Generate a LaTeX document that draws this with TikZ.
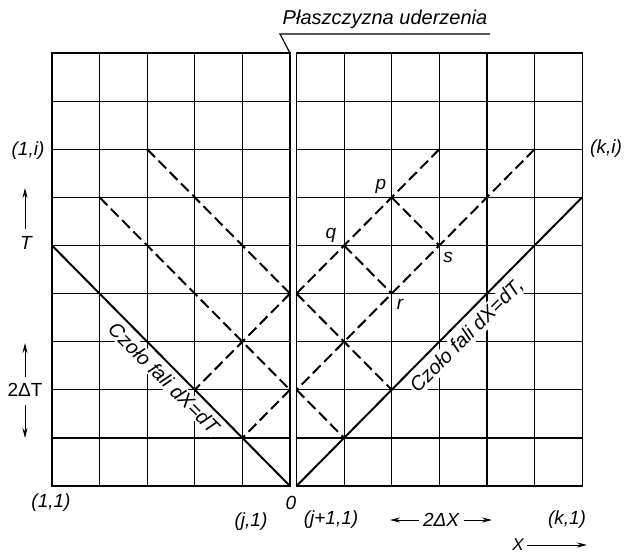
\documentclass[tikz,border=0pt]{standalone}
\usepackage{fontspec}
\setmainfont{Liberation Sans}
\usetikzlibrary{arrows.meta}
\begin{document}
\begin{tikzpicture}[x=1pt,y=-1pt,
  gridline/.style={line width=1.2pt},
  front/.style={line width=2pt},
  charline/.style={line width=2pt, dash pattern=on 11pt off 5pt},
  lbl/.style={font=\fontsize{19}{22}\selectfont\itshape, inner sep=0pt},
  uplbl/.style={font=\fontsize{19}{22}\selectfont, inner sep=0pt},
  frontlbl/.style={font=\fontsize{20}{24}\selectfont\itshape, fill=white, inner sep=1.5pt},
  arr/.style={line width=1pt, -{Stealth[length=10pt,width=5pt]}}
]
\useasboundingbox (0,0) rectangle (627,556);

% left half of the grid
\begin{scope}[shift={(290,486)}, x=47.6pt, y=48.1pt]
  \foreach \i in {-4,...,-1} \draw[gridline] (\i,0) -- (\i,9);
  \foreach \j in {1,...,8} \draw[gridline] (-5,\j) -- (0,\j);
  \draw[gridline] (-5,0) rectangle (0,9);
  \coordinate (Ltop) at (0,9);
  \coordinate (La) at (-3,7);
  \coordinate (Lb) at (-4,6);
  \coordinate (Lc4) at (0,4);
  \coordinate (Lc2) at (0,2);
  \coordinate (Lm2) at (-2,2);
  \coordinate (Lm1) at (-1,1);
  \coordinate (Lf) at (-5,5);
  \coordinate (L0) at (0,0);
\end{scope}

% right half of the grid
\begin{scope}[shift={(296.5,486)}, x=47.6pt, y=48.1pt]
  \foreach \i in {1,...,5} \draw[gridline] (\i,0) -- (\i,9);
  \foreach \j in {1,...,8} \draw[gridline] (0,\j) -- (6,\j);
  \draw[gridline] (0,0) rectangle (6,9);
  \coordinate (Rc4) at (0,4);
  \coordinate (Rc2) at (0,2);
  \coordinate (R22) at (2,2);
  \coordinate (R11) at (1,1);
  \coordinate (R37) at (3,7);
  \coordinate (R57) at (5,7);
  \coordinate (p) at (2,6);
  \coordinate (s) at (3,5);
  \coordinate (q) at (1,5);
  \coordinate (r) at (2,4);
  \coordinate (R0) at (0,0);
  \coordinate (R66) at (6,6);
\end{scope}

% wave-front labels (mask the grid behind them)
\node[frontlbl, rotate=-45] (fl) at (164,378) {Czoło fali dX=dT};
\node[frontlbl, rotate=45] (fr) at (467,336) {Czoło fali dX=dT,};

% characteristic lines
\draw[charline] (La) -- (Lc4);
\draw[charline] (Lb) -- (Lc2);
\draw[charline] (Lc4) -- (Lm2);
\draw[charline] (Lc2) -- (Lm1);
\draw[charline] (Rc4) -- (R22);
\draw[charline] (Rc2) -- (R11);
\draw[charline] (R37) -- (Rc4);
\draw[charline] (R57) -- (Rc2);
\draw[charline] (p) -- (s);
\draw[charline] (q) -- (r);

% wave fronts
\draw[front] (Lf) -- (L0);
\draw[front] (R0) -- (R66);

% point labels
\node[lbl] (lp) at (381,186) {p};
\node[lbl] (lq) at (331,235) {q};
\node[lbl] (ls) at (448,257) {s};
\node[lbl] (lr) at (400,304) {r};

% title with leader
\node[font=\fontsize{20}{24}\selectfont\itshape, inner sep=0pt, anchor=base] (title) at (385,25) {Płaszczyzna uderzenia};
\coordinate (ulL) at (280,34);
\coordinate (ulR) at (490,34);
\draw[gridline] (ulR) -- (ulL) -- (Ltop);

% corner labels
\node[lbl] (c1i) at (28,151) {(1,i)};
\node[lbl] (cki) at (606,149) {(k,i)};
\node[lbl] (c11) at (51,503) {(1,1)};
\node[lbl] (cj1) at (251,522) {(j,1)};
\node[lbl] (cj11) at (331,520) {(j+1,1)};
\node[lbl] (ck1) at (567,520) {(k,1)};
\node[lbl] (zero) at (291,503) {0};

% T axis
\node[lbl] (T) at (26,243) {T};
\coordinate (Ta) at (25,229);
\coordinate (Tb) at (25,188);
\draw[arr] (Ta) -- (Tb);

% 2 Delta T
\node[uplbl] (dT) at (25,390) {2ΔT};
\coordinate (dTa) at (25,377);
\coordinate (dTb) at (25,343);
\coordinate (dTc) at (25,405);
\coordinate (dTd) at (25,438);
\draw[arr] (dTa) -- (dTb);
\draw[arr] (dTc) -- (dTd);

% 2 Delta X
\node[lbl] (dX) at (441,520) {2ΔX};
\coordinate (dXa) at (419,520);
\coordinate (dXb) at (390,520);
\coordinate (dXc) at (464,520);
\coordinate (dXd) at (492,520);
\draw[arr] (dXa) -- (dXb);
\draw[arr] (dXc) -- (dXd);

% X axis
\node[font=\fontsize{17}{20}\selectfont\itshape, inner sep=0pt] (X) at (518,545) {X};
\coordinate (Xa) at (527,545);
\coordinate (Xb) at (587,545);
\draw[arr] (Xa) -- (Xb);
\end{tikzpicture}
\end{document}
